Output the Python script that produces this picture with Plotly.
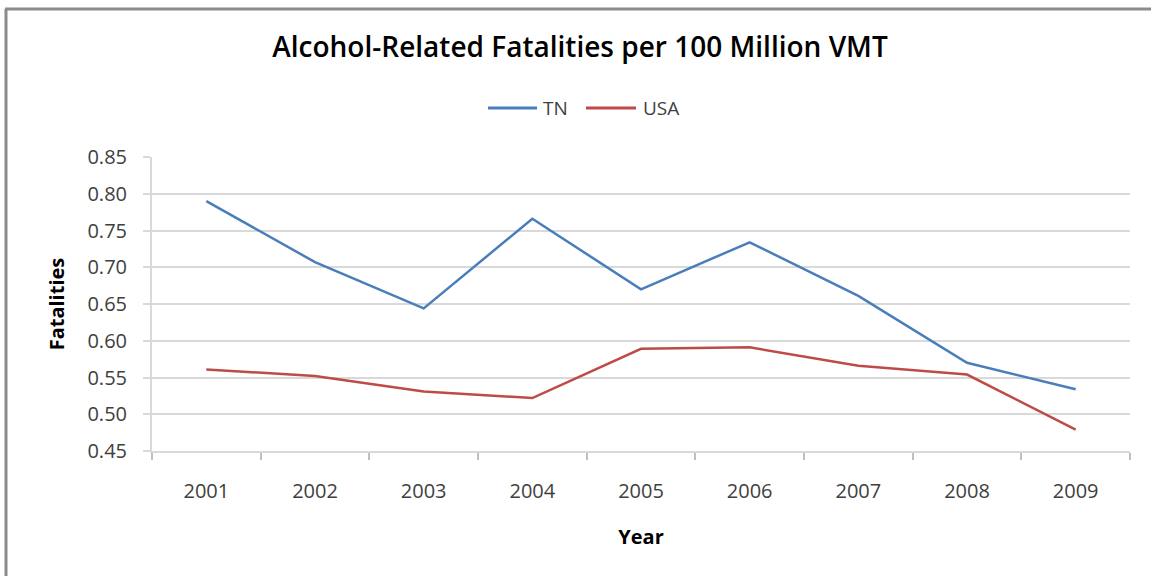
import plotly.graph_objects as go

years = ["2001", "2002", "2003", "2004", "2005", "2006", "2007", "2008", "2009"]
tn = [0.790, 0.707, 0.644, 0.766, 0.670, 0.734, 0.661, 0.570, 0.534]
usa = [0.561, 0.552, 0.531, 0.522, 0.589, 0.591, 0.566, 0.554, 0.479]
y_ticks = [0.45, 0.50, 0.55, 0.60, 0.65, 0.70, 0.75, 0.80, 0.85]
series_names = ["TN", "USA"]
series_colors = ["#4A7EBB", "#BE4B48"]

FONT = "Open Sans, sans-serif"
L, R, T, B = 152, 21, 157, 125
W, H = 1151, 576
pw, ph = W - L - R, H - T - B


def px(x):
    return (x - L) / pw


def py(y):
    return (T + ph - y) / ph


fig = go.Figure()
for name, vals, col in zip(series_names, [tn, usa], series_colors):
    fig.add_trace(go.Scatter(x=years, y=vals, mode="lines", name=name,
                             showlegend=False,
                             line=dict(color=col, width=2.5)))

# legend drawn as line samples + text (Excel-style long samples)
legend_lines = [(488, 537), (586, 636)]
legend_text_x = [541, 641]
shapes = []
annotations = []
for (x0, x1), tx, name, col in zip(legend_lines, legend_text_x, series_names, series_colors):
    shapes.append(dict(type="line", xref="paper", yref="paper",
                       x0=px(x0), x1=px(x1), y0=py(108), y1=py(108),
                       line=dict(color=col, width=3)))
    annotations.append(dict(text=name, xref="paper", yref="paper",
                            x=px(tx), y=py(108), xanchor="left", yanchor="middle",
                            showarrow=False,
                            font=dict(family=FONT, size=19, color="#404040")))

# outer chart frame (top and left edges visible)
shapes.append(dict(type="line", xref="paper", yref="paper",
                   x0=px(6), x1=px(6), y0=py(H), y1=py(9),
                   line=dict(color="#8C8C8C", width=3)))
shapes.append(dict(type="line", xref="paper", yref="paper",
                   x0=px(5), x1=px(W), y0=py(9), y1=py(9),
                   line=dict(color="#8C8C8C", width=3)))

fig.update_layout(
    width=W, height=H,
    margin=dict(l=L, r=R, t=T, b=B),
    paper_bgcolor="white", plot_bgcolor="white",
    title=dict(text="Alcohol-Related Fatalities per 100 Million VMT",
               x=px(580), xref="paper", xanchor="center",
               y=1 - 47 / H, yanchor="middle",
               font=dict(family=FONT, size=28, weight=600, color="#000000")),
    showlegend=False,
    font=dict(family=FONT, color="#404040"),
    shapes=shapes,
    annotations=annotations,
)

fig.update_xaxes(
    type="category", tickson="boundaries", ticks="outside", ticklen=7,
    tickcolor="#BFBFBF", tickwidth=1.5,
    showline=True, linecolor="#D9D9D9", linewidth=2,
    showgrid=False,
    ticklabelstandoff=21,
    tickfont=dict(family=FONT, size=20, color="#404040"),
    title=dict(text="<b>Year</b>", font=dict(family=FONT, size=20, color="#000000"), standoff=27),
    range=[-0.5, 8.5],
)
fig.update_yaxes(
    range=[0.45, 0.85], tickvals=y_ticks, tickformat=".2f",
    ticks="outside", ticklen=7, tickcolor="#D9D9D9", tickwidth=2,
    showgrid=True, gridcolor="#D9D9D9", gridwidth=2,
    showline=True, linecolor="#D9D9D9", linewidth=2,
    zeroline=False,
    ticklabelstandoff=12,
    tickfont=dict(family=FONT, size=20, color="#404040"),
    title=dict(text="<b>Fatalities</b>", font=dict(family=FONT, size=20, color="#000000"), standoff=17),
)

fig.write_html("out.html", config={"displayModeBar": False})
